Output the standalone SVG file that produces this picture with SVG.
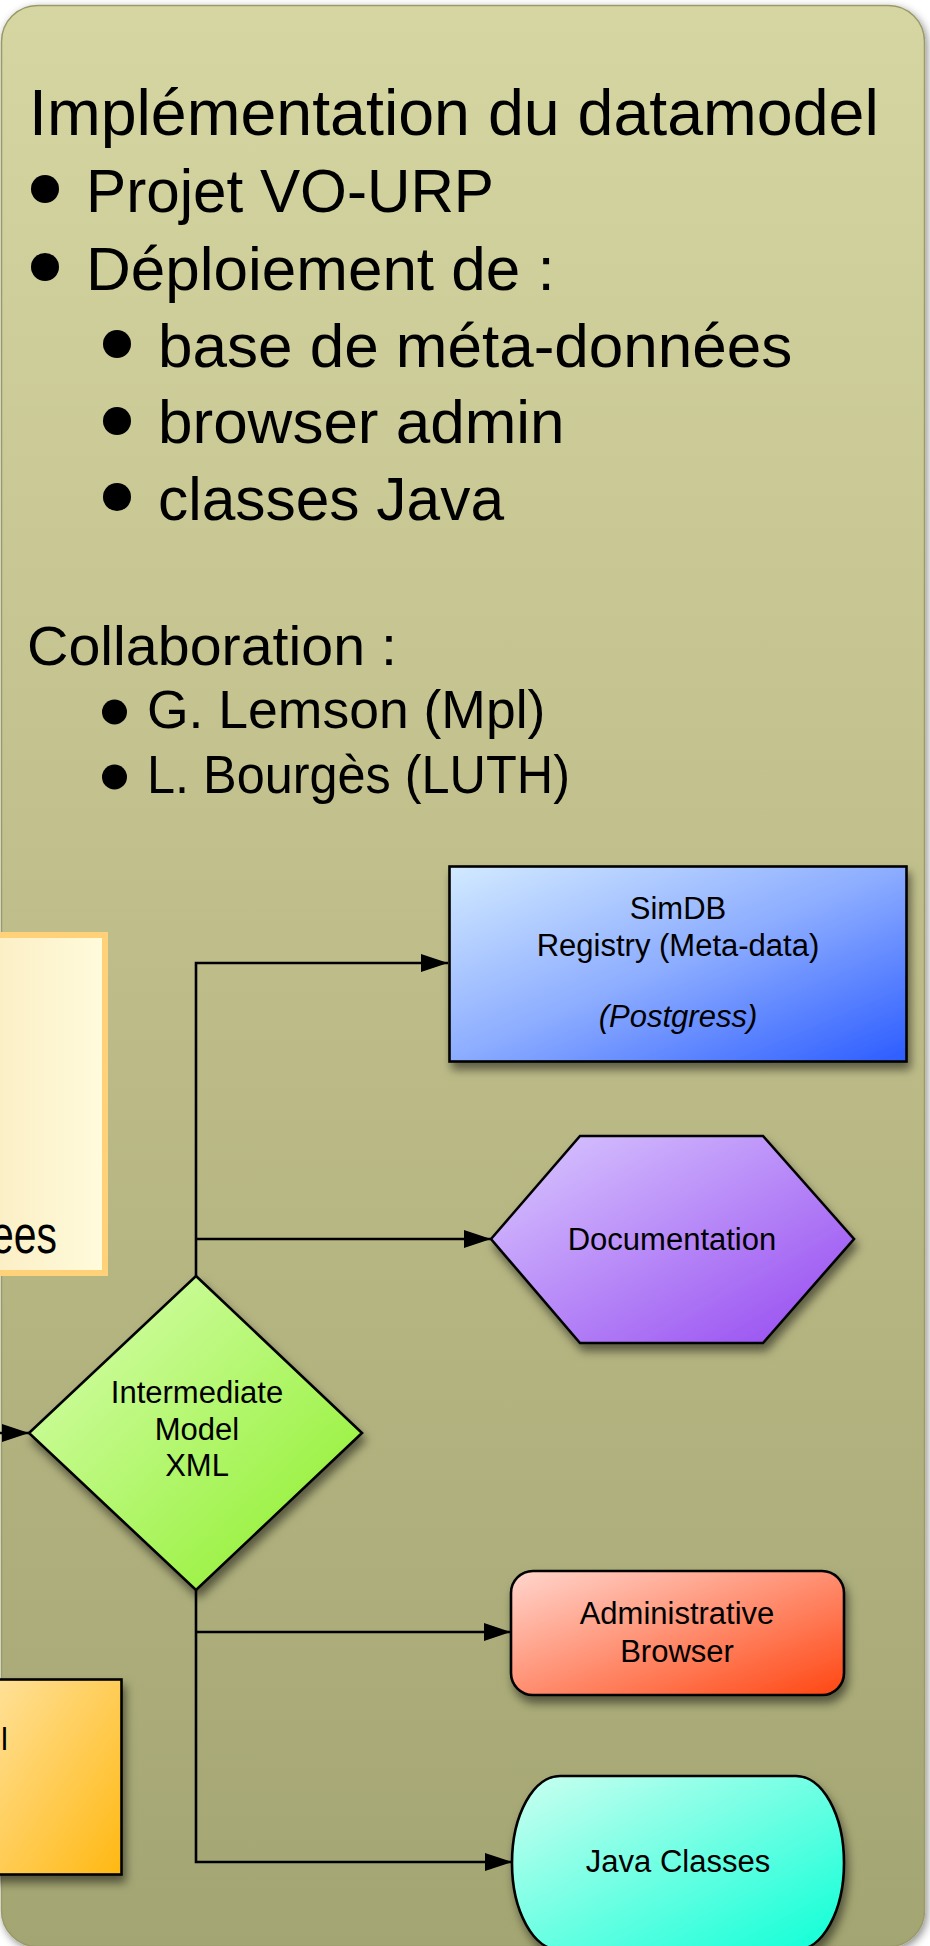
<svg xmlns="http://www.w3.org/2000/svg" width="930" height="1946" viewBox="0 0 930 1946">
  <defs>
    <style>
      .t { font-family: "Liberation Sans", Arial, Helvetica, sans-serif; fill: #000; }
      .node-text { font-size: 31px; text-anchor: middle; }
      .conn { fill: none; stroke: #000; stroke-width: 2.6; }
      .edge { stroke: #000; stroke-width: 2.6; }
    </style>
    <linearGradient id="panelFill" x1="0" y1="0" x2="0" y2="1">
      <stop offset="0" stop-color="#d6d6a2"/>
      <stop offset="0.5" stop-color="#bebd8a"/>
      <stop offset="1" stop-color="#a3a572"/>
    </linearGradient>
    <linearGradient id="blueFill" x1="0" y1="0" x2="1" y2="1">
      <stop offset="0" stop-color="#d2eaff"/>
      <stop offset="0.5" stop-color="#8cacff"/>
      <stop offset="1" stop-color="#2c5cff"/>
    </linearGradient>
    <linearGradient id="purpleFill" x1="0" y1="0" x2="1" y2="1">
      <stop offset="0" stop-color="#dacaff"/>
      <stop offset="1" stop-color="#9548f0"/>
    </linearGradient>
    <linearGradient id="greenFill" x1="0" y1="0" x2="1" y2="1">
      <stop offset="0" stop-color="#daffb4"/>
      <stop offset="1" stop-color="#8cee28"/>
    </linearGradient>
    <linearGradient id="redFill" x1="0" y1="0" x2="1" y2="1">
      <stop offset="0" stop-color="#ffd6ce"/>
      <stop offset="1" stop-color="#ff4612"/>
    </linearGradient>
    <linearGradient id="cyanFill" x1="0" y1="0" x2="1" y2="1">
      <stop offset="0" stop-color="#ccfff0"/>
      <stop offset="1" stop-color="#0cffd6"/>
    </linearGradient>
    <linearGradient id="orangeFill" x1="0" y1="0" x2="1" y2="1">
      <stop offset="0" stop-color="#ffe29c"/>
      <stop offset="1" stop-color="#ffb812"/>
    </linearGradient>
    <linearGradient id="creamFill" x1="0" y1="0" x2="1" y2="0">
      <stop offset="0" stop-color="#fbeec4"/>
      <stop offset="1" stop-color="#fffbdc"/>
    </linearGradient>
    <filter id="panelShadow" x="-5%" y="-5%" width="110%" height="110%">
      <feDropShadow dx="2" dy="3" stdDeviation="4" flood-color="#000" flood-opacity="0.45"/>
    </filter>
    <filter id="shadow" x="-20%" y="-20%" width="140%" height="150%">
      <feDropShadow dx="3" dy="7" stdDeviation="5" flood-color="#000" flood-opacity="0.5"/>
    </filter>
    <marker id="arrow" markerUnits="userSpaceOnUse" markerWidth="28" markerHeight="20" refX="27" refY="9" orient="auto">
      <path d="M0,0 L27,9 L0,18 Z" fill="#000"/>
    </marker>
  </defs>

  <rect width="930" height="1946" fill="#ffffff"/>

  <!-- background panel -->
  <g id="panel">
    <rect x="1.5" y="5.5" width="923" height="1941" rx="36" ry="36" fill="url(#panelFill)" stroke="#9a9a68" stroke-width="1.5" filter="url(#panelShadow)"/>
  </g>

  <!-- slide text -->
  <g id="title-text">
    <text class="t" x="29" y="135" font-size="64.5">Implémentation du datamodel</text>
    <circle cx="45" cy="189" r="14" fill="#000"/>
    <text class="t" x="86" y="212" font-size="62" textLength="408" lengthAdjust="spacingAndGlyphs">Projet VO-URP</text>
    <circle cx="45" cy="267" r="14" fill="#000"/>
    <text class="t" x="86" y="290" font-size="62">Déploiement de :</text>
    <circle cx="117" cy="344" r="14" fill="#000"/>
    <text class="t" x="158" y="367" font-size="62">base de méta-données</text>
    <circle cx="117" cy="421" r="14" fill="#000"/>
    <text class="t" x="158" y="443" font-size="62">browser admin</text>
    <circle cx="117" cy="497" r="14" fill="#000"/>
    <text class="t" x="158" y="520" font-size="62" textLength="346" lengthAdjust="spacingAndGlyphs">classes Java</text>
  </g>

  <g id="collaboration-text">
    <text class="t" x="27" y="665" font-size="55" textLength="370" lengthAdjust="spacingAndGlyphs">Collaboration :</text>
    <circle cx="114.5" cy="712" r="12.5" fill="#000"/>
    <text class="t" x="147" y="728" font-size="53.5">G. Lemson (Mpl)</text>
    <circle cx="114.5" cy="777" r="12.5" fill="#000"/>
    <text class="t" x="147" y="793" font-size="53.5" textLength="423" lengthAdjust="spacingAndGlyphs">L. Bourgès (LUTH)</text>
  </g>

  <!-- connectors -->
  <g id="connectors">
    <path class="conn" d="M196,1276 V963 H448" marker-end="url(#arrow)"/>
    <path class="conn" d="M196,1239 H491" marker-end="url(#arrow)"/>
    <path class="conn" d="M196,1590 V1862 H512" marker-end="url(#arrow)"/>
    <path class="conn" d="M196,1632 H511" marker-end="url(#arrow)"/>
    <path class="conn" d="M-20,1433 H29" marker-end="url(#arrow)"/>
  </g>

  <!-- cream note box running off the left edge -->
  <g id="note-box">
    <rect x="-10" y="935" width="115" height="338" fill="url(#creamFill)" stroke="#ffd27a" stroke-width="6"/>
    <text class="t" x="-9" y="1253" font-size="54" textLength="66" lengthAdjust="spacingAndGlyphs">ees</text>
  </g>

  <!-- orange source box running off the left edge -->
  <g id="source-box">
    <rect class="edge" x="-10" y="1679.5" width="131.5" height="195" fill="url(#orangeFill)" stroke-width="3" filter="url(#shadow)"/>
    <text class="t" x="8" y="1750" font-size="31" text-anchor="end">el</text>
  </g>

  <g id="simdb">
    <rect class="edge" x="449.5" y="866.5" width="457" height="195" fill="url(#blueFill)" stroke-width="3" filter="url(#shadow)"/>
    <text class="t node-text" x="678" y="919">SimDB</text>
    <text class="t node-text" x="678" y="956">Registry (Meta-data)</text>
    <text class="t node-text" x="678" y="1027" font-style="italic">(Postgress)</text>
  </g>

  <g id="documentation">
    <polygon class="edge" points="491,1239 580,1136 763,1136 854,1239 763,1343 580,1343" fill="url(#purpleFill)" stroke-linejoin="miter" filter="url(#shadow)"/>
    <text class="t node-text" x="672" y="1250">Documentation</text>
  </g>

  <g id="intermediate-model">
    <polygon class="edge" points="196,1276 362,1433 196,1590 29,1433" fill="url(#greenFill)" filter="url(#shadow)"/>
    <text class="t node-text" x="197" y="1403">Intermediate</text>
    <text class="t node-text" x="197" y="1440">Model</text>
    <text class="t node-text" x="197" y="1476">XML</text>
  </g>

  <g id="admin-browser">
    <rect class="edge" x="511" y="1571" width="333" height="124" rx="22" ry="22" fill="url(#redFill)" filter="url(#shadow)"/>
    <text class="t node-text" x="677" y="1624">Administrative</text>
    <text class="t node-text" x="677" y="1662">Browser</text>
  </g>

  <g id="java-classes">
    <rect class="edge" x="512" y="1776" width="332" height="174" rx="48" ry="87" fill="url(#cyanFill)" filter="url(#shadow)"/>
    <text class="t node-text" x="678" y="1872">Java Classes</text>
  </g>
</svg>
